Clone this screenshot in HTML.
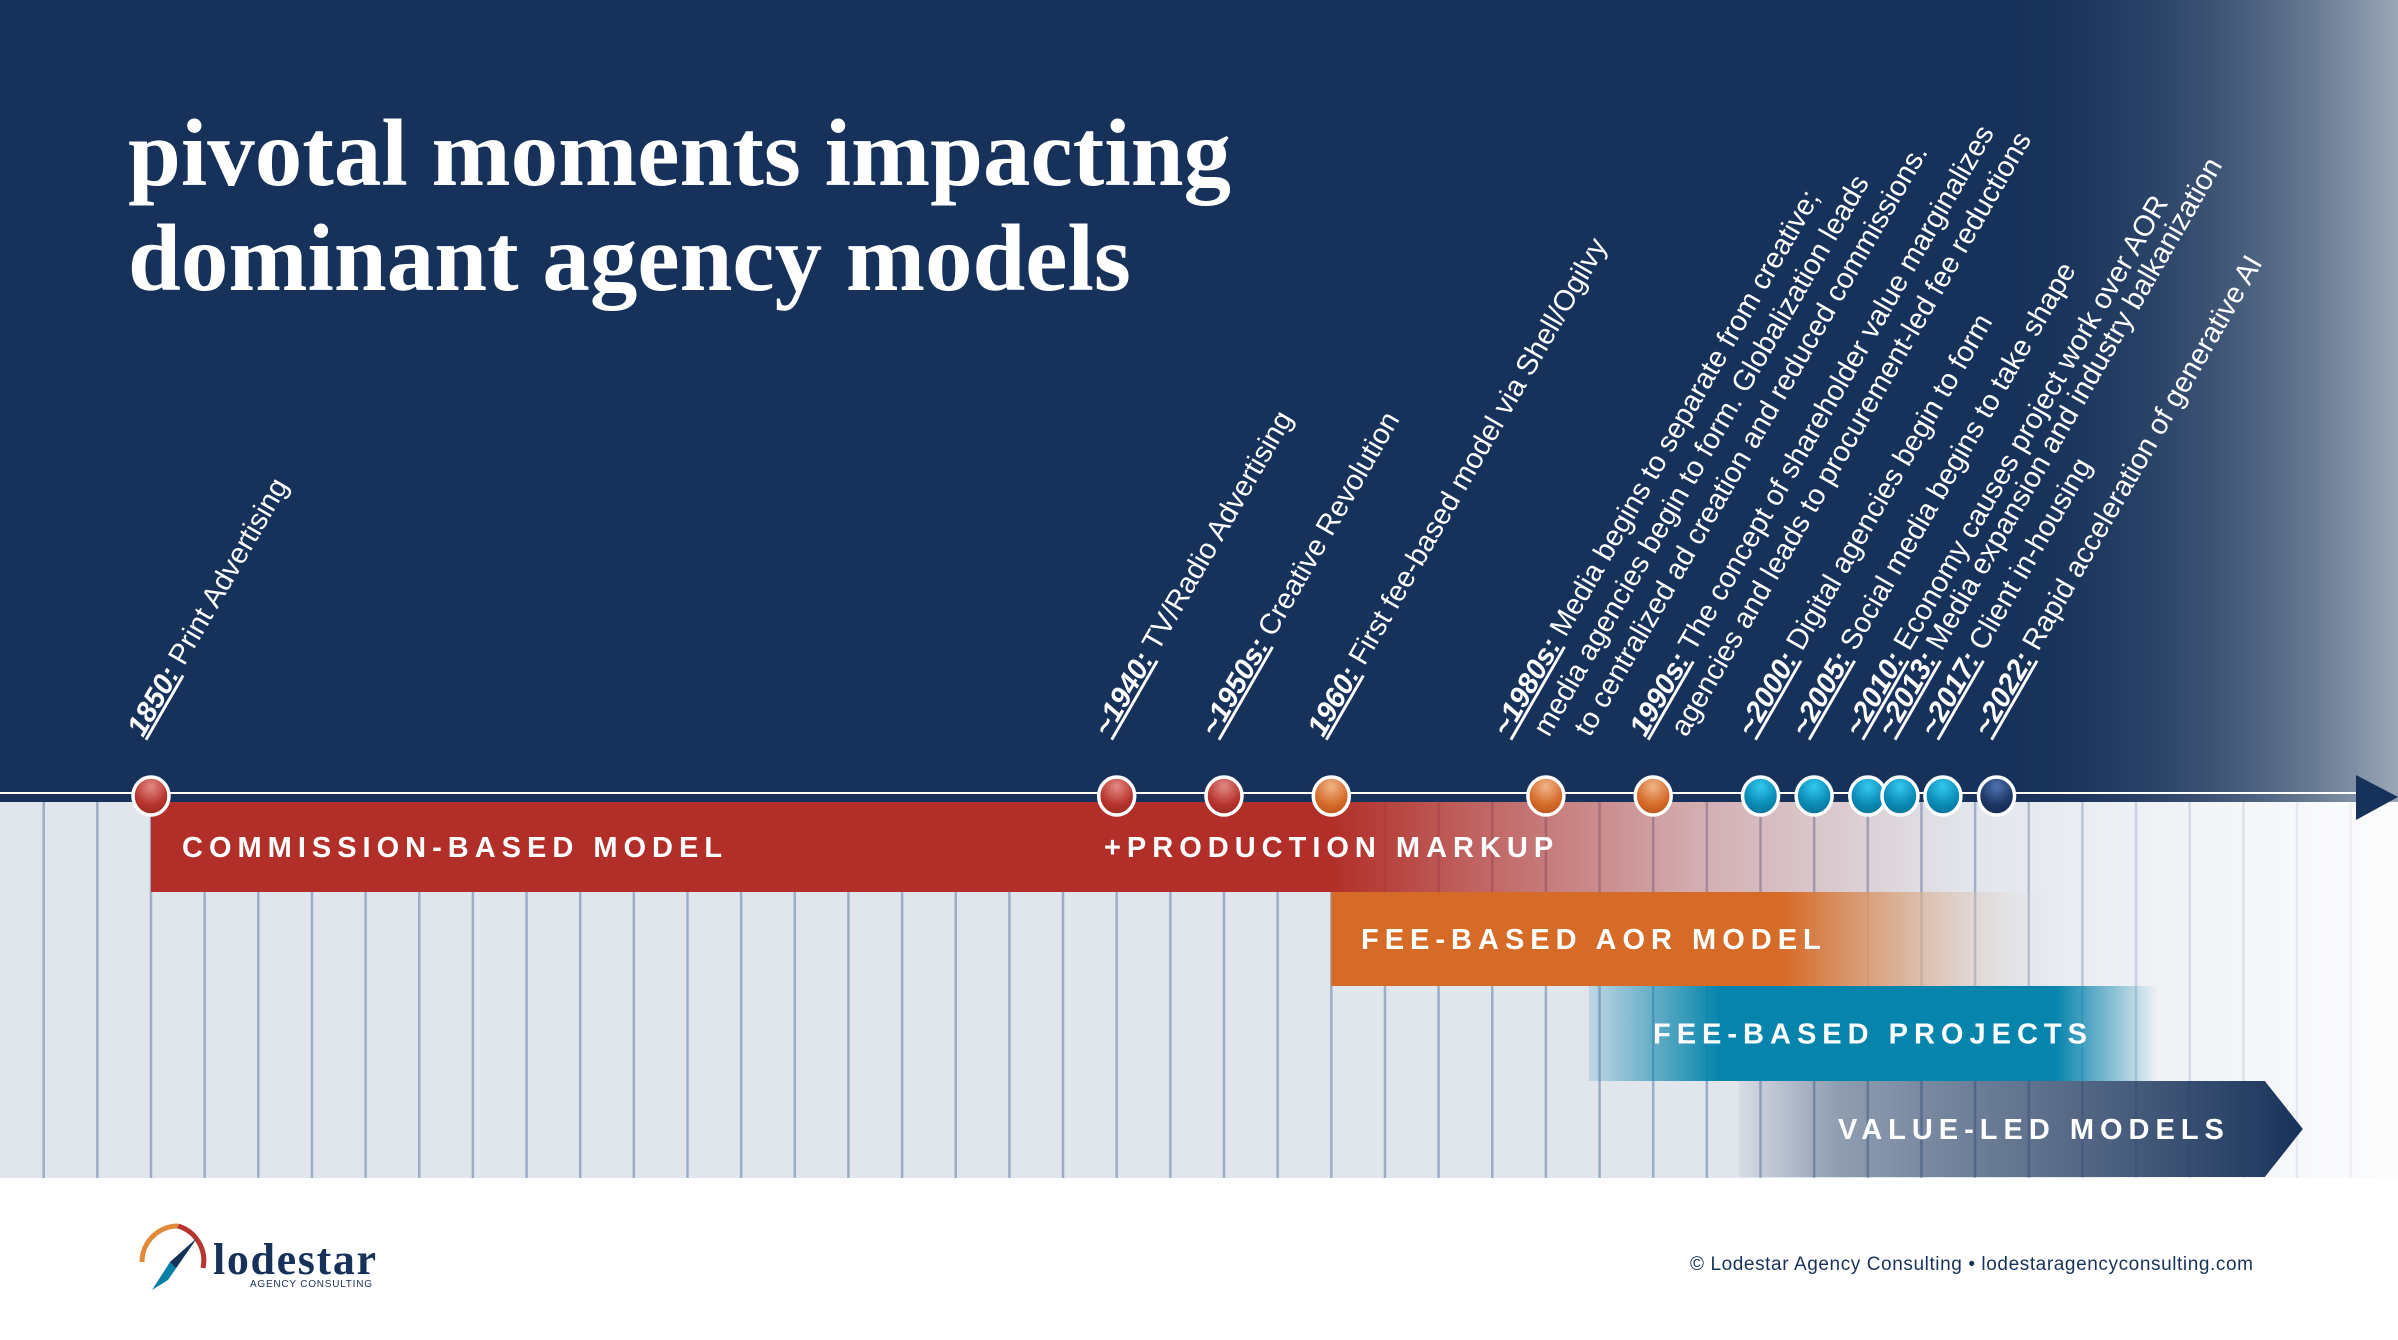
<!DOCTYPE html>
<html><head><meta charset="utf-8"><style>
html,body{margin:0;padding:0;background:#fff}
svg{display:block}
text{font-family:"Liberation Sans",sans-serif}
</style></head><body>
<svg id="chart" width="2398" height="1340" viewBox="0 0 2398 1340" xmlns="http://www.w3.org/2000/svg">
<defs>
<linearGradient id="skyFade" x1="0" x2="1" y1="0" y2="0">
<stop offset="0" stop-color="#17325a" stop-opacity="0"/><stop offset="1" stop-color="#9ba7b7" stop-opacity="1"/></linearGradient>
<linearGradient id="gridFade" x1="0" x2="1" y1="0" y2="0">
<stop offset="0" stop-color="#fff" stop-opacity="0"/><stop offset="0.5" stop-color="#fff" stop-opacity="0.6"/><stop offset="1" stop-color="#fff" stop-opacity="1"/></linearGradient>
<radialGradient id="gRed" cx="0.5" cy="0.25" r="0.8"><stop offset="0" stop-color="#e28a85"/><stop offset="0.6" stop-color="#b8352e"/><stop offset="1" stop-color="#962520"/></radialGradient>
<radialGradient id="gOrange" cx="0.5" cy="0.25" r="0.8"><stop offset="0" stop-color="#f0b58a"/><stop offset="0.6" stop-color="#d66c2a"/><stop offset="1" stop-color="#b5521b"/></radialGradient>
<radialGradient id="gTeal" cx="0.5" cy="0.25" r="0.8"><stop offset="0" stop-color="#33c8f0"/><stop offset="0.6" stop-color="#0a8bb6"/><stop offset="1" stop-color="#076f92"/></radialGradient>
<radialGradient id="gNavy" cx="0.5" cy="0.25" r="0.8"><stop offset="0" stop-color="#4d73b0"/><stop offset="0.6" stop-color="#1d3764"/><stop offset="1" stop-color="#142a4c"/></radialGradient>
</defs>
<rect x="0" y="0" width="2398" height="802" fill="#17325a"/>
<rect x="2000" y="0" width="398" height="802" fill="url(#skyFade)"/>
<text x="128" y="185" font-weight="bold" font-size="95" fill="#fff" style="font-family:'Liberation Serif',serif">pivotal moments impacting</text>
<text x="128" y="290" font-weight="bold" font-size="95" fill="#fff" style="font-family:'Liberation Serif',serif">dominant agency models</text>
<rect x="0" y="802" width="2398" height="376" fill="#e1e5ec"/>
<g id="gridLines"></g>
<rect x="1960" y="802" width="438" height="376" fill="url(#gridFade)" opacity="0.9"/>
<g id="bars"></g>
<g id="barLabels"></g>
<line x1="0" y1="793" x2="2360" y2="793" stroke="#fff" stroke-width="2"/>
<polygon points="2356,775 2398,797 2356,820" fill="#17325a"/>
<g id="dots"></g>
<g id="labels"></g>
<g>
<path d="M142,1262 A36,36 0 0 1 178,1226" fill="none" stroke="#e08a3a" stroke-width="5"/>
<path d="M178,1226 A36,36 0 0 1 203,1268" fill="none" stroke="#b8352e" stroke-width="5"/>
<polygon points="197,1238 168,1280 152,1290 170,1262" fill="#0a7fa6"/>
<polygon points="197,1238 176,1268 170,1262" fill="#17325a"/>
<text x="213" y="1274" font-size="44" font-weight="bold" fill="#17325a" style="font-family:'Liberation Serif',serif" textLength="163">lodestar</text>
<text x="250" y="1287" font-size="10" fill="#17325a" textLength="122">AGENCY CONSULTING</text>
</g>
<text x="1690" y="1270" font-size="19" fill="#17325a" textLength="563">© Lodestar Agency Consulting • lodestaragencyconsulting.com</text>
</svg>
<script>
const eventYears=[1850,1940,1950,1960,1980,1990,2000,2005,2010,2013,2017,2022];
const eventTags=["1850:","~1940:","~1950s:","1960:","~1980s:","1990s:","~2000:","~2005:","~2010:","~2013:","~2017:","~2022:"];
const eventColors=["red","red","red","orange","orange","orange","teal","teal","teal","teal","teal","navy"];
const eventLines=[
 ["Print Advertising"],["TV/Radio Advertising"],["Creative Revolution"],["First fee-based model via Shell/Ogilvy"],
 ["Media begins to separate from creative;","media agencies begin to form. Globalization leads","to centralized ad creation and reduced commissions."],
 ["The concept of shareholder value marginalizes","agencies and leads to procurement-led fee reductions"],
 ["Digital agencies begin to form"],["Social media begins to take shape"],["Economy causes project work over AOR"],
 ["Media expansion and industry balkanization"],["Client in-housing"],["Rapid acceleration of generative AI"]];
const barNames=["COMMISSION-BASED MODEL","FEE-BASED AOR MODEL","FEE-BASED PROJECTS","VALUE-LED MODELS"];
const barStart=[1850,1960,1984,1998];
const barEnd=[2019,2028,2037,2047];
const gridYears=[];for(let y=1840;y<=2060;y+=5)gridYears.push(y);

const NS="http://www.w3.org/2000/svg";
const X=y=>151+(y-1850)*10.73;
function mk(tag,attrs,parent){const e=document.createElementNS(NS,tag);for(const k in attrs)e.setAttribute(k,attrs[k]);parent.appendChild(e);return e;}
const svg=document.getElementById('chart');
const defs=svg.querySelector('defs');

const gl=document.getElementById('gridLines');
gridYears.forEach(y=>{const l=mk('line',{x1:X(y),x2:X(y),y1:802,y2:1178,stroke:'#9dadc6','stroke-width':2.5},gl);

});

const barColors=["#b22e28","#d66b28","#0684ac","#17325a"];
const rowY=[802,892,986,1081];const rowH=[90,94,95,96];
function grad(id,stops){const g=mk('linearGradient',{id:id,x1:0,x2:1,y1:0,y2:0},defs);stops.forEach(s=>mk('stop',{offset:s[0],'stop-color':s[1],'stop-opacity':s[2]},g));}
const bg=document.getElementById('bars');
const bl=document.getElementById('barLabels');
barNames.forEach((n,i)=>{
 const x0=X(barStart[i]),x1=X(barEnd[i]),w=x1-x0,c=barColors[i];
 if(i===0)grad('bg0',[[0,c,1],[(1330-x0)/w,c,1],[(1480-x0)/w,c,0.7],[(1700-x0)/w,c,0.3],[1,c,0]]);
 if(i===1)grad('bg1',[[0,c,1],[(1785-x0)/w,c,1],[(1900-x0)/w,'#d9a582',0.8],[1,'#e1e5ec',0]]);
 if(i===2)grad('bg2',[[0,c,0.15],[(1720-x0)/w,c,1],[(2055-x0)/w,c,1],[1,c,0]]);
 if(i===3)grad('bg3',[[0,c,0.05],[(1830-x0)/w,c,0.4],[(2265-x0)/w,c,1],[1,c,1]]);
 let el;
 if(i===3){const tip=x1+38;el=mk('polygon',{points:`${x0},${rowY[i]} ${x1},${rowY[i]} ${tip},${rowY[i]+rowH[i]/2} ${x1},${rowY[i]+rowH[i]} ${x0},${rowY[i]+rowH[i]}`,fill:'url(#bg3)'},bg);}
 else el=mk('rect',{x:x0,y:rowY[i],width:w,height:rowH[i],fill:`url(#bg${i})`},bg);
 
 
 const lx=[182,1361,1653,1838][i];
 const t=mk('text',{x:lx,y:rowY[i]+rowH[i]/2+10,fill:'#fff','font-size':29,'font-weight':'bold','letter-spacing':6},bl);
 t.textContent=n;
 
 
});
const pm=mk('text',{x:1104,y:857,fill:'#fff','font-size':29,'font-weight':'bold','letter-spacing':6},bl);
pm.textContent='+PRODUCTION MARKUP';



const dg=document.getElementById('dots');
const lg=document.getElementById('labels');
const gMap={red:'gRed',orange:'gOrange',teal:'gTeal',navy:'gNavy'};
eventYears.forEach((yr,i)=>{
 const cx=X(yr);
 const c=mk('ellipse',{cx:cx,cy:796,rx:18,ry:19,fill:`url(#${gMap[eventColors[i]]})`,stroke:'#fff','stroke-width':3.5},dg);
 
 
 const lines=eventLines[i];
 const first=lines.length===3?-38:-8;
 lines.forEach((ln,j)=>{
  const lx=cx+first+j*41, ly=738;
  const t=mk('text',{transform:`translate(${lx},${ly}) rotate(-60)`,fill:'#fff','font-size':29},lg);
  if(j===0){const s=mk('tspan',{'font-weight':'bold','font-style':'italic','text-decoration':'underline'},t);s.textContent=eventTags[i];
   const r=mk('tspan',{},t);r.textContent=' '+ln;}
  else t.textContent=ln;
  
  
 });
});
</script>
</body></html>
